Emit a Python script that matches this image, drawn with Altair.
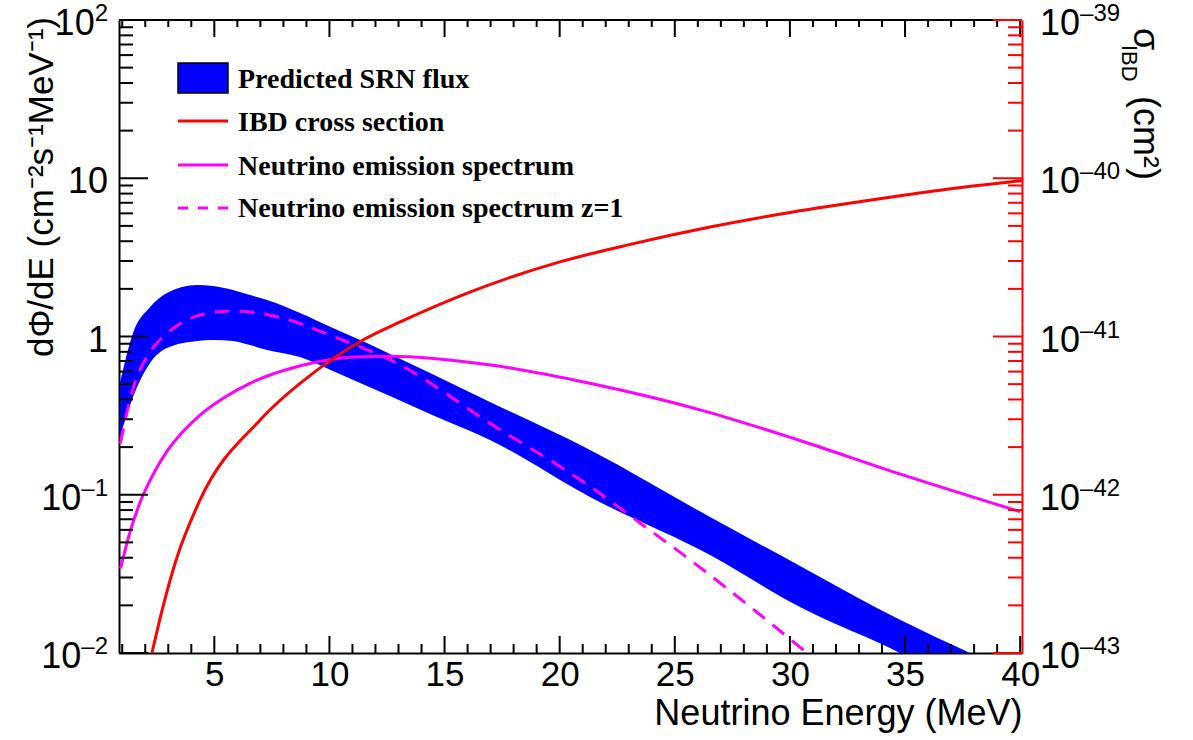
import altair as alt
import pandas as pd

# ---------------- data ----------------
# Predicted SRN flux band (cm^-2 s^-1 MeV^-1): upper and lower edge
band_E = [0.90, 1.47, 2.21, 2.94, 4.25, 4.94, 5.81, 6.55, 7.29, 8.72, 10.15, 11.63, 12.63, 14.37,
          16.97, 21.32, 26.53, 30.44, 34.78, 37.82]
band_hi = [0.508, 1.052, 1.535, 1.884, 2.113, 2.084, 1.967, 1.828, 1.702, 1.409, 1.133, 0.910, 0.775,
           0.587, 0.386, 0.192, 0.0723, 0.0355, 0.0162, 0.0100]
band_lo = [0.232, 0.415, 0.681, 0.845, 0.937, 0.951, 0.937, 0.883, 0.822, 0.741, 0.605, 0.486, 0.421,
           0.324, 0.222, 0.0968, 0.0416, 0.0195, 0.0100, 0.0058]

# Neutrino emission spectrum z=1 (dashed)
z1_E = [0.92, 1.45, 2.22, 2.94, 3.67, 4.39, 5.84, 8.0, 10.18, 12.93, 16.98, 21.33, 23.5, 25.67, 28.27, 30.74, 31.5]
z1_flux = [0.211, 0.459, 0.802, 1.047, 1.242, 1.368, 1.449, 1.303, 0.998, 0.678, 0.2825, 0.1125, 0.0661,
           0.0387, 0.0196, 0.0100, 0.0081]

# Neutrino emission spectrum (solid)
em_E = [0.93, 1.30, 1.79, 2.37, 2.94, 3.64, 4.39, 5.47, 6.57, 8.74, 10.9, 12.6, 17.0, 21.3, 26.1, 30.4, 34.7, 40.0]
em_flux = [0.0343, 0.0557, 0.0906, 0.137, 0.188, 0.251, 0.320, 0.415, 0.508, 0.653, 0.740, 0.750, 0.661,
           0.506, 0.344, 0.221, 0.1365, 0.0782]

# IBD cross section (cm^2), right axis
ibd_E = [2.29, 2.80, 3.34, 4.38, 6.98, 9.29, 11.46, 13.07, 16.10, 20.01, 22.92, 26.53, 30.13, 33.04, 36.52, 40.08]
ibd_sigma = [1.0e-43, 2.04e-43, 3.87e-43, 9.27e-43, 2.96e-42, 5.87e-42, 9.51e-42, 1.236e-41, 1.91e-41,
             2.96e-41, 3.78e-41, 4.92e-41, 6.12e-41, 7.11e-41, 8.41e-41, 9.66e-41]

# axes
x_major = [5, 10, 15, 20, 25, 30, 35, 40]
x_minor = [1, 2, 3, 4, 6, 7, 8, 9, 11, 12, 13, 14, 16, 17, 18, 19, 21, 22, 23, 24,
           26, 27, 28, 29, 31, 32, 33, 34, 36, 37, 38, 39]
left_major = [0.01, 0.1, 1, 10, 100]
left_base = ["10", "10", "1", "10", "10"]
left_exp = ["–2", "–1", "", "", "2"]
right_major = [1e-43, 1e-42, 1e-41, 1e-40, 1e-39]
right_base = ["10", "10", "10", "10", "10"]
right_exp = ["–43", "–42", "–41", "–40", "–39"]
mantissas = [2, 3, 4, 5, 6, 7, 8, 9]
left_minor = [m * d for d in [0.01, 0.1, 1, 10] for m in mantissas]
right_minor = [m * d for d in [1e-43, 1e-42, 1e-41, 1e-40] for m in mantissas]

legend_labels = ["Predicted SRN flux", "IBD cross section", "Neutrino emission spectrum",
                 "Neutrino emission spectrum z=1"]

# ---------------- chart ----------------
W, H = 903, 633
E_MIN, E_MAX = 0.86, 40.08
SANS = "Liberation Sans"
SERIF = "Liberation Serif"
BLUE, RED, MAG = "#0000ff", "#ff0000", "#ff00ff"
FS = 35       # x tick labels
YFS = 36      # y tick label base
EFS = 24      # exponent size

xs = alt.Scale(domain=[E_MIN, E_MAX], nice=False, zero=False)
yl = alt.Scale(type="log", domain=[0.01, 100], nice=False)
yr = alt.Scale(type="log", domain=[1e-43, 1e-39], nice=False)

band_df = pd.DataFrame({"E": band_E, "hi": band_hi, "lo": band_lo})
z1_df = pd.DataFrame({"E": z1_E, "flux": z1_flux})
em_df = pd.DataFrame({"E": em_E, "flux": em_flux})
ibd_df = pd.DataFrame({"E": ibd_E, "sigma": ibd_sigma})
one = pd.DataFrame({"a": [0]})

x_axis = alt.Axis(values=x_major, format="d", ticks=False, tickSize=0, grid=False,
                  domain=True, domainColor="black", domainWidth=2,
                  labelFontSize=FS, labelFont=SANS, labelColor="black", labelPadding=4,
                  labelFlush=False, labelOverlap=False,
                  title="Neutrino Energy (MeV)", titleAnchor="end", titleFontSize=36,
                  titleFont=SANS, titleFontWeight="normal", titleColor="black", titlePadding=4)
yl_axis = alt.Axis(values=left_major, labels=False, ticks=False, tickSize=0, grid=False,
                   domain=True, domainColor="black", domainWidth=2, title=None)
yr_axis = alt.Axis(values=right_major, labels=False, orient="right", ticks=False, tickSize=0,
                   grid=False, domain=True, domainColor=RED, domainWidth=2, title=None)


def X(field):
    return alt.X(field, scale=xs, axis=x_axis)


def YL(field):
    return alt.Y(field, scale=yl, axis=yl_axis)


def YR(field):
    return alt.Y(field, scale=yr, axis=yr_axis)


band = alt.Chart(band_df).mark_area(color=BLUE, interpolate="monotone", clip=True).encode(
    x=X("E:Q"), y=YL("hi:Q"), y2="lo:Q")
em_line = alt.Chart(em_df).mark_line(color=MAG, strokeWidth=3, interpolate="monotone", clip=True).encode(
    x=X("E:Q"), y=YL("flux:Q"))
z1_line = alt.Chart(z1_df).mark_line(color=MAG, strokeWidth=3, strokeDash=[15, 10],
                                     interpolate="monotone", clip=True).encode(
    x=X("E:Q"), y=YL("flux:Q"))


# inner ticks (ROOT style)
def xticks(vals, y0, y1):
    return alt.Chart(pd.DataFrame({"E": vals})).mark_rule(color="black", strokeWidth=2).encode(
        x=X("E:Q"), y=alt.value(y0), y2=alt.value(y1))


def lticks(vals, length):
    return alt.Chart(pd.DataFrame({"v": vals})).mark_rule(color="black", strokeWidth=2).encode(
        y=YL("v:Q"), x=alt.value(0), x2=alt.value(length))


def rticks(vals, length):
    return alt.Chart(pd.DataFrame({"v": vals})).mark_rule(color=RED, strokeWidth=2).encode(
        y=YR("v:Q"), x=alt.value(W), x2=alt.value(W - length))


# tick labels with ROOT-like superscript exponents
def tick_labels(values, bases, exps, yenc, side):
    layers = []
    for v, b, e in zip(values, bases, exps):
        df = pd.DataFrame({"v": [v], "b": [b], "e": [e]})
        if side == "left":
            ew = 0.556 * EFS * len(e)
            bx, ex, al = -11 - ew, -11, "right"
        else:
            bx, ex, al = W + 18, W + 18 + 1.112 * YFS, "left"
        layers.append(alt.Chart(df).mark_text(fontSize=YFS, font=SANS, align=al, baseline="middle",
                                              dy=4, color="black").encode(
            y=yenc("v:Q"), x=alt.value(bx), text="b:N"))
        if e:
            layers.append(alt.Chart(df).mark_text(fontSize=EFS, font=SANS, align=al,
                                                  baseline="middle", dy=-6, color="black").encode(
                y=yenc("v:Q"), x=alt.value(ex), text="e:N"))
    return layers


top_border = alt.Chart(one).mark_rule(color="black", strokeWidth=2).encode(
    x=alt.value(0), x2=alt.value(W), y=alt.value(0))


def text(s, x, y, size, font=SANS, weight="normal", angle=0, align="left", baseline="alphabetic"):
    return alt.Chart(one).mark_text(text=s, fontSize=size, font=font, fontWeight=weight,
                                    angle=angle, align=align, baseline=baseline,
                                    color="black").encode(x=alt.value(x), y=alt.value(y))


# legend
leg_box = alt.Chart(one).mark_rect(color=BLUE, stroke="black", strokeWidth=1.5).encode(
    x=alt.value(59), x2=alt.value(109), y=alt.value(43), y2=alt.value(73))
leg_red = alt.Chart(one).mark_rule(color=RED, strokeWidth=3).encode(
    x=alt.value(59), x2=alt.value(109), y=alt.value(101))
leg_mag = alt.Chart(one).mark_rule(color=MAG, strokeWidth=3).encode(
    x=alt.value(59), x2=alt.value(109), y=alt.value(145))
leg_dash = alt.Chart(one).mark_rule(color=MAG, strokeWidth=3, strokeDash=[10, 10]).encode(
    x=alt.value(59), x2=alt.value(109), y=alt.value(188))
leg_texts = [text(lab, 119, yy, 28, font=SERIF, weight="bold")
             for lab, yy in zip(legend_labels, [68, 111, 155, 197])]

# axis titles
ytitle = text("dΦ/dE (cm⁻²s⁻¹MeV⁻¹)", -66, -3, 35, angle=270, align="right")
rt_sigma = text("σ", 1015, 8, 36, angle=90)
rt_ibd = text("IBD", 1003, 25, 22, angle=90)
rt_unit = text("(cm²)", 1015, 76, 36, angle=90)

left = alt.layer(
    band, em_line, z1_line,
    xticks(x_major, H, H - 17), xticks(x_minor, H, H - 9),
    xticks(x_major, 0, 17), xticks(x_minor, 0, 7),
    lticks(left_major, 29), lticks(left_minor, 14),
    *tick_labels(left_major, left_base, left_exp, YL, "left"),
    top_border,
    leg_box, leg_red, leg_mag, leg_dash, *leg_texts,
    ytitle, rt_sigma, rt_ibd, rt_unit,
)

ibd_line = alt.Chart(ibd_df).mark_line(color=RED, strokeWidth=3, interpolate="monotone", clip=True).encode(
    x=X("E:Q"), y=YR("sigma:Q"))
right = alt.layer(ibd_line, rticks(right_major, 29), rticks(right_minor, 14),
                  *tick_labels(right_major, right_base, right_exp, YR, "right"))

chart = alt.layer(left, right).resolve_scale(y="independent").properties(
    width=W, height=H,
    autosize=alt.AutoSizeParams(type="none"),
    padding={"left": 119, "top": 20, "right": 171, "bottom": 87},
    background="white",
).configure_view(stroke=None)

chart.save("out.html", embed_options={"renderer": "svg", "actions": False})
